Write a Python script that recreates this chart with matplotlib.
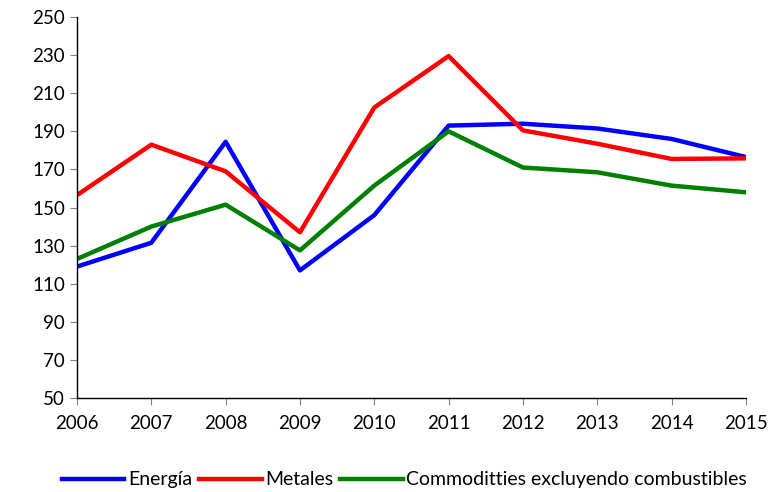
import matplotlib.pyplot as plt

plt.rcParams['font.family'] = ['Lato', 'DejaVu Sans']

years = [2006, 2007, 2008, 2009, 2010, 2011, 2012, 2013, 2014, 2015]
energia = [119, 131.5, 184.5, 117, 146, 193, 194, 191.5, 186, 176.5]
metales = [156.5, 183, 169, 137, 202.5, 229.5, 190.5, 183.5, 175.5, 175.8]
commod = [123, 140, 151.5, 127.5, 161.5, 190, 171, 168.5, 161.5, 158]

fig = plt.figure(figsize=(7.76, 4.92), dpi=100)
ax = fig.add_axes([0.0992, 0.191, 0.862, 0.7744])

ax.plot(years, energia, color='#0000FF', lw=3.2, label='Energía')
ax.plot(years, metales, color='#FF0000', lw=3.2, label='Metales')
ax.plot(years, commod, color='#008000', lw=3.2, label='Commoditties excluyendo combustibles')

ax.set_xlim(2006, 2015)
ax.set_ylim(50, 250)
ax.set_xticks(years)
ax.set_yticks(range(50, 251, 20))
ax.tick_params(labelsize=13.5, length=5, width=0.8, color='#808080')
ax.tick_params(axis='x', pad=7)
for s in ['top', 'right']:
    ax.spines[s].set_visible(False)
for s in ['left', 'bottom']:
    ax.spines[s].set_linewidth(1)

ax.legend(loc='lower center', bbox_to_anchor=(0.49, -0.283), ncol=3, frameon=False,
          fontsize=14, handlelength=3.2, handletextpad=0.2, columnspacing=0.35)

fig.savefig('out.png', dpi=100)
